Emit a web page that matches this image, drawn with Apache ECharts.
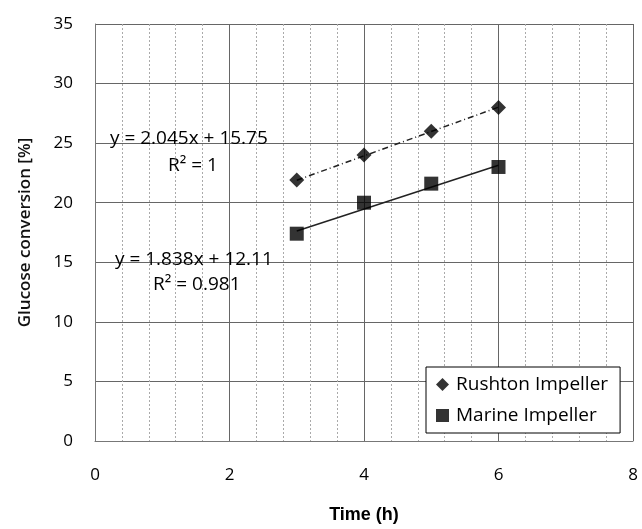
<!DOCTYPE html>
<html>
<head>
<meta charset="utf-8">
<script src="https://cdn.jsdelivr.net/npm/echarts@6/dist/echarts.min.js"></script>
<style>
html,body{margin:0;padding:0;background:#fff;}
#chart{width:642px;height:529px;}
</style>
</head>
<body>
<div id="chart"></div>
<script>
// ---- data ----
var timeH = [3, 4, 5, 6];
var rushton = [21.9, 24.0, 26.0, 28.0];
var marine = [17.4, 20.0, 21.6, 23.0];
var seriesNames = ['Rushton Impeller', 'Marine Impeller'];
// trendline coefficients as printed on the chart
var trendSlope = [2.045, 1.838];
var trendIntercept = [15.75, 12.11];
var trendText = ['y = 2.045x + 15.75', 'y = 1.838x + 12.11'];
var r2Text = ['R\u00b2 = 1', 'R\u00b2 = 0.981'];
var xTicks = [0, 2, 4, 6, 8];
var yTicks = [0, 5, 10, 15, 20, 25, 30, 35];

function pts(xs, ys) { return xs.map(function (x, i) { return [x, ys[i]]; }); }
function trend(k) {
  var x0 = timeH[0], x1 = timeH[timeH.length - 1];
  return [[x0, trendSlope[k] * x0 + trendIntercept[k]], [x1, trendSlope[k] * x1 + trendIntercept[k]]];
}

var FONT = 'Open Sans';
var chart = echarts.init(document.getElementById('chart'), null, {renderer: 'canvas'});
var option = {
  backgroundColor: '#fff',
  animation: false,
  grid: {left: 95, right: 9, top: 24, bottom: 84, containLabel: false},
  xAxis: {
    type: 'value', min: xTicks[0], max: xTicks[xTicks.length - 1], interval: 2,
    name: 'Time (h)', nameLocation: 'middle', nameGap: 65,
    nameTextStyle: {fontFamily: 'Liberation Sans', fontWeight: 'bold', fontSize: 18, color: '#000'},
    axisLine: {show: true, lineStyle: {color: '#777', width: 1}},
    axisTick: {show: false},
    axisLabel: {margin: 26, fontFamily: FONT, fontSize: 17, color: '#000'},
    splitLine: {show: true, lineStyle: {color: '#666', width: 1}},
    minorTick: {show: false, splitNumber: 5},
    minorSplitLine: {show: true, lineStyle: {color: '#aaa', width: 1, type: [2, 2]}}
  },
  yAxis: {
    type: 'value', min: yTicks[0], max: yTicks[yTicks.length - 1], interval: 5,
    name: 'Glucose conversion [%]', nameLocation: 'middle', nameGap: 61,
    nameTextStyle: {fontFamily: FONT, fontWeight: 600, fontSize: 17, color: '#111'},
    axisLine: {show: true, lineStyle: {color: '#777', width: 1}},
    axisTick: {show: false},
    axisLabel: {margin: 22, fontFamily: FONT, fontSize: 17, color: '#000'},
    splitLine: {show: true, lineStyle: {color: '#666', width: 1}}
  },
  legend: {
    orient: 'vertical', left: 426, top: 367,
    padding: [8, 12, 8, 10], itemGap: 12,
    backgroundColor: '#fff', borderColor: '#000', borderWidth: 1,
    itemWidth: 13, itemHeight: 13,
    textStyle: {fontFamily: FONT, fontSize: 19, color: '#000', padding: [0, 0, 0, 2]},
    data: [{name: seriesNames[0], icon: 'diamond'}, {name: seriesNames[1], icon: 'rect'}]
  },
  graphic: [
    {type: 'text', left: 110, top: 129, z: 100, style: {text: trendText[0], font: '19px "Open Sans"', fill: '#000'}},
    {type: 'text', left: 168, top: 156, z: 100, style: {text: r2Text[0], font: '19px "Open Sans"', fill: '#000'}},
    {type: 'text', left: 115, top: 250, z: 100, style: {text: trendText[1], font: '19px "Open Sans"', fill: '#000'}},
    {type: 'text', left: 153, top: 275, z: 100, style: {text: r2Text[1], font: '19px "Open Sans"', fill: '#000'}}
  ],
  series: [
    {
      name: seriesNames[0] + ' trend', type: 'line', data: trend(0), symbol: 'none', silent: true,
      lineStyle: {color: '#222', width: 1.5, type: [6, 3, 1, 3]}, z: 3
    },
    {
      name: seriesNames[1] + ' trend', type: 'line', data: trend(1), symbol: 'none', silent: true,
      lineStyle: {color: '#222', width: 1.5, type: 'solid'}, z: 3
    },
    {
      name: seriesNames[0], type: 'scatter', data: pts(timeH, rushton),
      symbol: 'diamond', symbolSize: 15, itemStyle: {color: '#000'}, z: 5
    },
    {
      name: seriesNames[1], type: 'scatter', data: pts(timeH, marine),
      symbol: 'rect', symbolSize: 14, itemStyle: {color: '#000'}, z: 5
    }
  ]
};
chart.setOption(option);
</script>
</body>
</html>
